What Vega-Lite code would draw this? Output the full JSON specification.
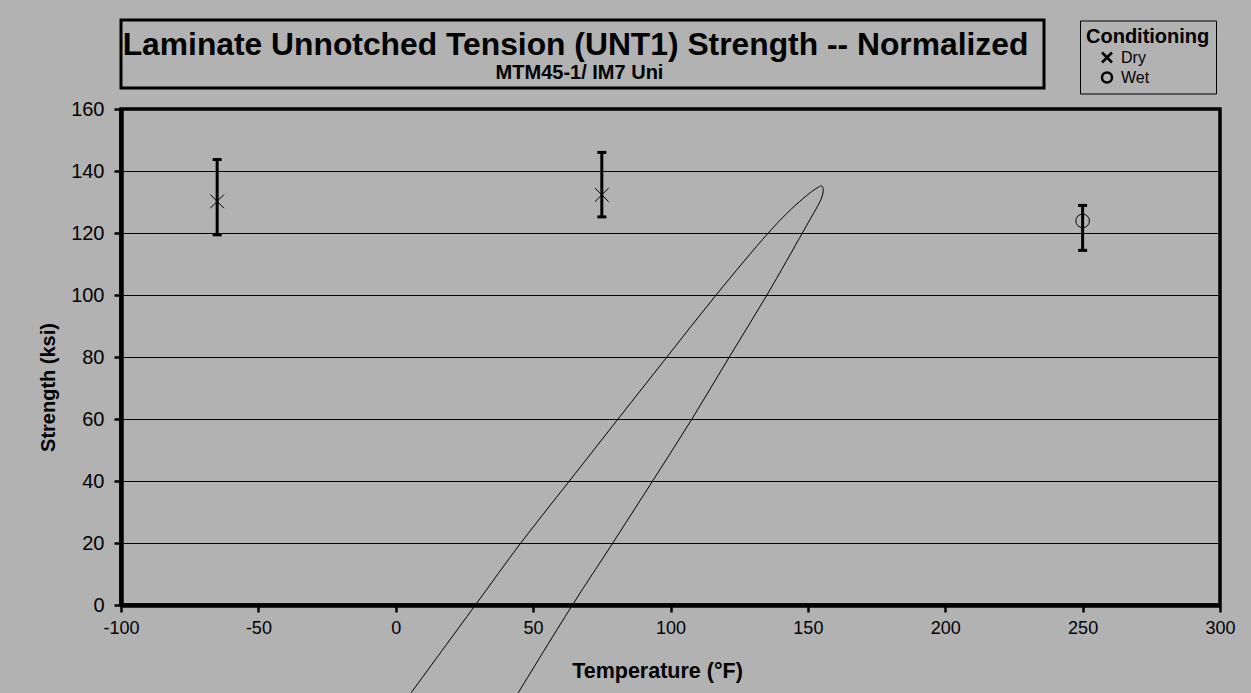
{
  "$schema": "https://vega.github.io/schema/vega-lite/v6.json",
  "background": "#B2B2B2",
  "padding": {"left": 36, "top": 18, "right": 16, "bottom": 3},
  "bounds": "flush",
  "spacing": 21,
  "config": {
    "font": "Liberation Sans",
    "axis": {
      "labelFont": "Liberation Sans",
      "titleFont": "Liberation Sans",
      "labelColor": "black",
      "titleColor": "black",
      "tickColor": "black",
      "domainColor": "black",
      "domainWidth": 4.5,
      "tickWidth": 2.5,
      "tickSize": 7,
      "labelFontSize": 18,
      "titleFontSize": 20,
      "titleFontWeight": "bold",
      "gridColor": "black",
      "gridWidth": 1,
      "gridOpacity": 1,
      "tickCount": 8,
      "labelFlush": false,
      "labelOverlap": false,
      "labelExpr": "replace(datum.label, '−', '-')"
    },
    "axisX": {"grid": false, "labelPadding": 7, "titlePadding": 23, "titleFontSize": 21.5, "titleX": 536},
    "axisY": {"grid": true, "labelFontSize": 20, "labelPadding": 10, "titlePadding": 12, "titleY": 278}
  },
  "datasets": {
    "heading": [{"text": "Laminate Unnotched Tension (UNT1) Strength -- Normalized"}],
    "subheading": [{"text": "MTM45-1/ IM7 Uni"}],
    "points": [
      {"T": -65, "C": "Dry", "S": 130.2, "lo": 119.4, "hi": 143.7},
      {"T": 75, "C": "Dry", "S": 132.3, "lo": 125.2, "hi": 146.0},
      {"T": 250, "C": "Wet", "S": 123.9, "lo": 114.4, "hi": 128.9}
    ],
    "ellipse": [
      {"i": 0, "T": 5.6, "S": -28.3},
      {"i": 1, "T": 29.0, "S": 0},
      {"i": 2, "T": 45.5, "S": 20},
      {"i": 3, "T": 63.2, "S": 40},
      {"i": 4, "T": 80.9, "S": 60},
      {"i": 5, "T": 98.7, "S": 80},
      {"i": 6, "T": 116.6, "S": 100},
      {"i": 7, "T": 135.6, "S": 120},
      {"i": 8, "T": 143.6, "S": 127.4},
      {"i": 9, "T": 150.0, "S": 132.4},
      {"i": 10, "T": 153.3, "S": 134.5},
      {"i": 11, "T": 155.0, "S": 135.2},
      {"i": 12, "T": 155.6, "S": 134.0},
      {"i": 13, "T": 155.1, "S": 131.6},
      {"i": 14, "T": 153.5, "S": 128.6},
      {"i": 15, "T": 150.8, "S": 124.4},
      {"i": 16, "T": 148.0, "S": 120},
      {"i": 17, "T": 135.1, "S": 100},
      {"i": 18, "T": 121.4, "S": 80},
      {"i": 19, "T": 107.8, "S": 60},
      {"i": 20, "T": 93.5, "S": 40},
      {"i": 21, "T": 79.0, "S": 20},
      {"i": 22, "T": 64.3, "S": 0},
      {"i": 23, "T": 44.6, "S": -28.3}
    ]
  },
  "vconcat": [
    {
      "width": 923,
      "height": 68,
      "view": {"stroke": "black", "strokeWidth": 3, "fill": null},
      "layer": [
        {
          "data": {"name": "heading"},
          "mark": {"type": "text", "fontSize": 31.8, "fontWeight": "bold", "dy": -9, "dx": -7, "color": "black"},
          "encoding": {"text": {"field": "text"}}
        },
        {
          "data": {"name": "subheading"},
          "mark": {"type": "text", "fontSize": 20, "fontWeight": "bold", "dy": 19, "dx": -3, "color": "black"},
          "encoding": {"text": {"field": "text"}}
        }
      ]
    },
    {
      "width": 1099,
      "height": 496,
      "view": {"stroke": "black", "strokeWidth": 3.5, "fill": null},
      "encoding": {
        "x": {"field": "T", "type": "quantitative", "title": "Temperature (°F)", "scale": {"domain": [-100, 300], "nice": false}},
        "y": {"field": "S", "type": "quantitative", "title": "Strength (ksi)", "scale": {"domain": [0, 160], "nice": false}}
      },
      "layer": [
        {
          "data": {"name": "ellipse"},
          "mark": {"type": "line", "color": "black", "strokeWidth": 1, "interpolate": "catmull-rom"},
          "encoding": {"order": {"field": "i", "type": "quantitative"}}
        },
        {
          "data": {"name": "points"},
          "mark": {"type": "rule", "color": "black", "strokeWidth": 3},
          "encoding": {
            "y": {"field": "lo", "type": "quantitative", "title": "Strength (ksi)"},
            "y2": {"field": "hi"}
          }
        },
        {
          "data": {"name": "points"},
          "mark": {"type": "tick", "orient": "horizontal", "size": 9, "thickness": 3, "color": "black", "opacity": 1},
          "encoding": {"y": {"field": "lo", "type": "quantitative", "title": "Strength (ksi)"}}
        },
        {
          "data": {"name": "points"},
          "mark": {"type": "tick", "orient": "horizontal", "size": 9, "thickness": 3, "color": "black", "opacity": 1},
          "encoding": {"y": {"field": "hi", "type": "quantitative", "title": "Strength (ksi)"}}
        },
        {
          "data": {"name": "points"},
          "mark": {"type": "point", "filled": false, "color": "black", "strokeWidth": 1, "size": 185, "opacity": 1},
          "encoding": {
            "shape": {
              "field": "C",
              "type": "nominal",
              "scale": {"domain": ["Dry", "Wet"], "range": ["M-1,-1L1,1M-1,1L1,-1", "circle"]},
              "legend": {
                "orient": "none",
                "legendX": 959,
                "legendY": 0.5,
                "title": "Conditioning",
                "titleFontSize": 20,
                "titleFontWeight": "bold",
                "titleColor": "black",
                "titlePadding": 3,
                "labelFontSize": 16,
                "labelColor": "black",
                "labelOffset": 6,
                "symbolSize": 100,
                "symbolStrokeWidth": 2.5,
                "symbolStrokeColor": "black",
                "symbolOffset": 13,
                "rowPadding": 0,
                "padding": 6,
                "strokeColor": "black"
              }
            }
          }
        }
      ]
    }
  ]
}
